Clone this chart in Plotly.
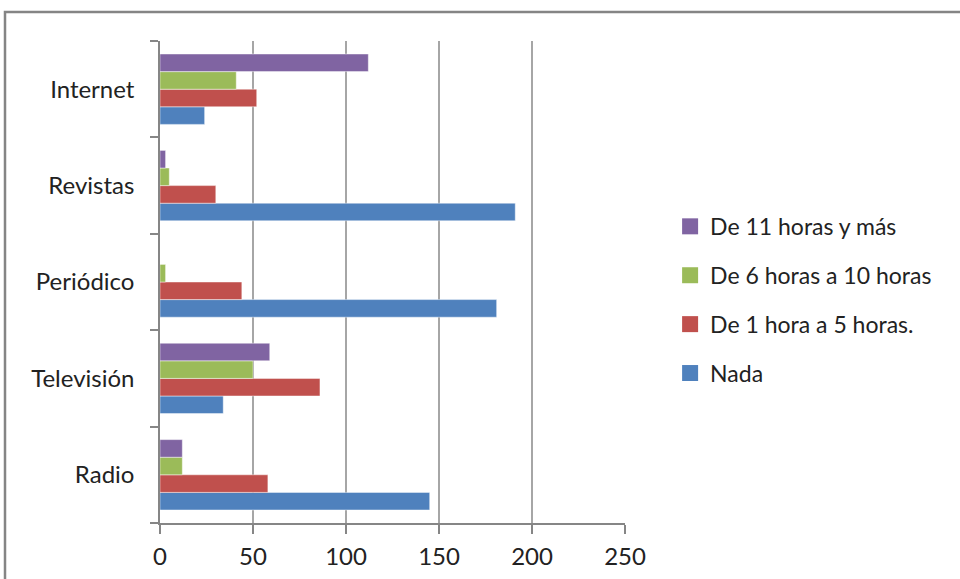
import plotly.graph_objects as go

categories = ["Radio", "Televisión", "Periódico", "Revistas", "Internet"]
series_names = ["Nada", "De 1 hora a 5 horas.", "De 6 horas a 10 horas", "De 11 horas y más"]
nada = [145, 34, 181, 191, 24]
h1_5 = [58, 86, 44, 30, 52]
h6_10 = [12, 50, 3, 5, 41]
h11_mas = [12, 59, 0, 3, 112]
x_ticks = [0, 50, 100, 150, 200, 250]

colors = ["#4F81BD", "#C0504D", "#9BBB59", "#8064A2"]
values = [nada, h1_5, h6_10, h11_mas]
legend_rank = [4, 3, 2, 1]

FONT = "Lato"
fig = go.Figure()
for name, vals, col, rk in zip(series_names, values, colors, legend_rank):
    fig.add_trace(go.Bar(
        y=categories, x=vals, name=name, orientation="h",
        marker=dict(color=col, line=dict(color="rgba(255,255,255,0.45)", width=1)),
        legendgroup=name, showlegend=False,
    ))
    fig.add_trace(go.Scatter(
        x=[None], y=[None], mode="markers", name=name, legendgroup=name,
        legendrank=rk,
        marker=dict(symbol="square", size=16, color=col), showlegend=True,
    ))

fig.update_layout(
    width=960, height=579,
    margin=dict(l=160, r=335, t=41, b=56, autoexpand=False),
    paper_bgcolor="white", plot_bgcolor="white",
    barmode="group", bargap=0.27, bargroupgap=0,
    font=dict(family=FONT, size=24, color="#222222"),
    legend=dict(
        x=1.097, xanchor="left", y=0.66, yanchor="top",
        traceorder="grouped", tracegroupgap=16,
        font=dict(family=FONT, size=23, color="#222222"),
        bgcolor="rgba(0,0,0,0)",
    ),
    xaxis=dict(
        range=[0, 250], tickmode="array", tickvals=x_ticks,
        ticktext=[str(v) for v in x_ticks],
        showgrid=True, gridcolor="#a6a6a6", gridwidth=1.5,
        showline=True, linecolor="#868686", linewidth=1.5,
        ticks="outside", ticklen=9, tickcolor="#868686", tickwidth=1.5,
        zeroline=False, fixedrange=True, ticklabelstandoff=2,
        automargin=False,
    ),
    yaxis=dict(
        categoryorder="array", categoryarray=categories,
        showline=True, linecolor="#868686", linewidth=1.5,
        ticks="outside", ticklen=8, tickcolor="#868686", tickwidth=1.5,
        tickson="boundaries", showgrid=False, zeroline=False,
        ticklabelstandoff=19, automargin=False, fixedrange=True,
    ),
    shapes=[dict(
        type="rect", xref="paper", yref="paper",
        x0=(5 - 160) / 465, x1=3.0, y0=-1.0, y1=1 + (41 - 12) / 482,
        line=dict(color="#858585", width=2.5), fillcolor="rgba(0,0,0,0)", layer="below",
    )],
)

fig.write_html("out.html", config={"displayModeBar": False},
               post_script="document.body.style.margin='0px';")
